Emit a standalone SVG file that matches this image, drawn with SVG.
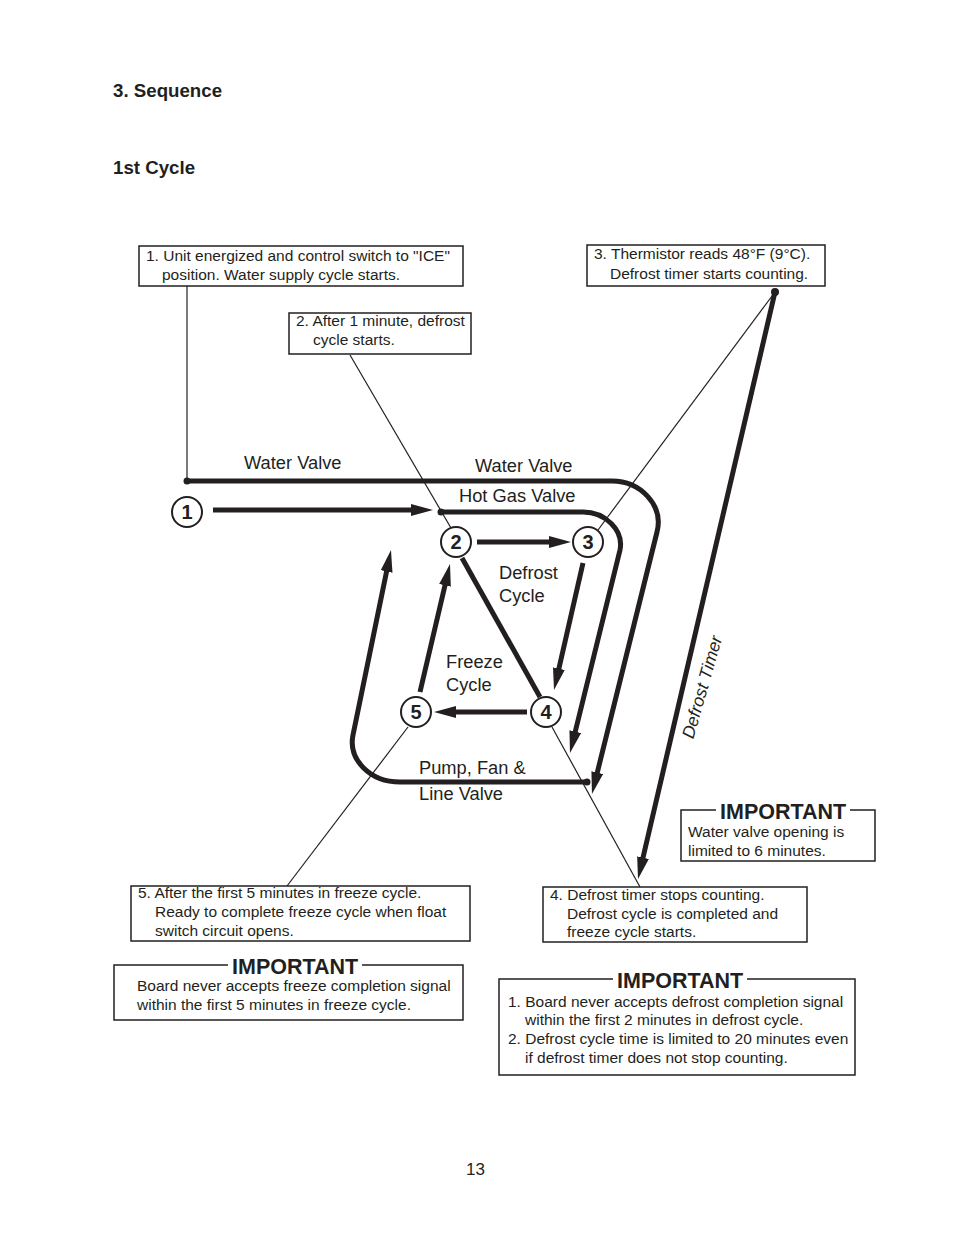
<svg xmlns="http://www.w3.org/2000/svg" width="954" height="1235" viewBox="0 0 954 1235">
<style>
text{font-family:"Liberation Sans",Arial,sans-serif;fill:#231f20}
.h{font-weight:bold;font-size:18.7px}
.bx{font-size:15.5px}
.lb{font-size:18.3px}
.imp{font-weight:bold;font-size:21.5px}
.num{font-weight:bold;font-size:20px;text-anchor:middle}
.box{fill:none;stroke:#231f20;stroke-width:1.5}
.thin{fill:none;stroke:#231f20;stroke-width:1.2}
.thick{fill:none;stroke:#231f20;stroke-width:5}
.circ{fill:#fff;stroke:#231f20;stroke-width:2}
.dot{fill:#231f20}
</style>
<defs>
<marker id="ah" viewBox="0 0 22 12" refX="4" refY="6" markerWidth="22" markerHeight="12" markerUnits="userSpaceOnUse" orient="auto">
<path d="M0,0 L22,6 L0,12 Z" fill="#231f20"/>
</marker>
</defs>
<rect width="954" height="1235" fill="#fff"/>
<text class="h" x="113" y="97">3. Sequence</text>
<text class="h" x="113" y="174">1st Cycle</text>

<g id="connectors">
<path class="thin" d="M187,286 V481"/>
<path class="thin" d="M350,355 L451,528"/>
<path class="thin" d="M775,292 L598,530"/>
<path class="thin" d="M552,727 L640,887"/>
<path class="thin" d="M408,727 L287,886"/>
<path class="thick" d="M187,481 H612 C640,481 664,505 657,532 L596.3,776.5" marker-end="url(#ah)"/>
<path class="thick" d="M441,512 H583 C605,512 624,530 620,550 L574.3,735.5" marker-end="url(#ah)"/>
<path class="thick" d="M587,782 H400 C370,782 348,759.5 353,735 L387.4,567.6" marker-end="url(#ah)"/>
<path class="thick" d="M213,510 H415" marker-end="url(#ah)"/>
<path class="thick" d="M477,542 H553" marker-end="url(#ah)"/>
<path class="thick" d="M583,563 L558,672.5" marker-end="url(#ah)"/>
<path class="thick" d="M527,712 H452" marker-end="url(#ah)"/>
<path class="thick" d="M420,692 L445.9,581.5" marker-end="url(#ah)"/>
<path class="thick" d="M462,558 L540,697"/>
<path class="thick" d="M775,292 L642.1,861.5" marker-end="url(#ah)"/>
<circle class="dot" cx="187" cy="481" r="3.5"/>
<circle class="dot" cx="441" cy="512" r="3.5"/>
<circle class="dot" cx="775" cy="292" r="4"/>
<circle class="dot" cx="587" cy="782" r="3.5"/>
</g>

<g id="labels">
<text class="lb" x="244" y="469">Water Valve</text>
<text class="lb" x="475" y="472">Water Valve</text>
<text class="lb" x="459" y="502">Hot Gas Valve</text>
<text class="lb" x="499" y="579">Defrost</text>
<text class="lb" x="499" y="602">Cycle</text>
<text class="lb" x="446" y="668">Freeze</text>
<text class="lb" x="446" y="691">Cycle</text>
<text class="lb" x="419" y="774">Pump, Fan &amp;</text>
<text class="lb" x="419" y="800">Line Valve</text>
<text x="702" y="693" font-size="17.5" font-style="italic" text-anchor="middle" transform="rotate(-74 702 687)">Defrost Timer</text>
</g>

<g id="node1"><circle class="circ" cx="187" cy="512" r="15"/><text class="num" x="187" y="519">1</text></g>
<g id="node2"><circle class="circ" cx="456" cy="542" r="15"/><text class="num" x="456" y="549">2</text></g>
<g id="node3"><circle class="circ" cx="588" cy="542" r="15"/><text class="num" x="588" y="549">3</text></g>
<g id="node4"><circle class="circ" cx="546" cy="712" r="15"/><text class="num" x="546" y="719">4</text></g>
<g id="node5"><circle class="circ" cx="416" cy="712" r="15"/><text class="num" x="416" y="719">5</text></g>

<g id="box1"><rect class="box" x="139" y="246" width="324" height="40" fill="#fff"/>
<text class="bx" x="146" y="261">1. Unit energized and control switch to "ICE"</text>
<text class="bx" x="162" y="280">position. Water supply cycle starts.</text></g>
<g id="box2"><rect class="box" x="289" y="313" width="182" height="41" fill="#fff"/>
<text class="bx" x="296" y="326">2. After 1 minute, defrost</text>
<text class="bx" x="313" y="345">cycle starts.</text></g>
<g id="box3"><rect class="box" x="587" y="245" width="238" height="41" fill="#fff"/>
<text class="bx" x="594" y="259">3. Thermistor reads 48°F (9°C).</text>
<text class="bx" x="610" y="279">Defrost timer starts counting.</text></g>
<g id="box4"><rect class="box" x="543" y="887" width="264" height="55"/>
<text class="bx" x="550" y="900">4. Defrost timer stops counting.</text>
<text class="bx" x="567" y="919">Defrost cycle is completed and</text>
<text class="bx" x="567" y="937">freeze cycle starts.</text></g>
<g id="box5"><rect class="box" x="131" y="886" width="339" height="55"/>
<text class="bx" x="138" y="898">5. After the first 5 minutes in freeze cycle.</text>
<text class="bx" x="155" y="917">Ready to complete freeze cycle when float</text>
<text class="bx" x="155" y="936">switch circuit opens.</text></g>

<g id="important1">
<path class="box" d="M716,810 H681 V861 H875 V810 H850"/>
<text class="imp" x="720" y="819">IMPORTANT</text>
<text class="bx" x="688" y="837">Water valve opening is</text>
<text class="bx" x="688" y="856">limited to 6 minutes.</text>
</g>
<g id="important2">
<path class="box" d="M228,965 H114 V1020 H463 V965 H362"/>
<text class="imp" x="232" y="974">IMPORTANT</text>
<text class="bx" x="137" y="991">Board never accepts freeze completion signal</text>
<text class="bx" x="137" y="1010">within the first 5 minutes in freeze cycle.</text>
</g>
<g id="important3">
<path class="box" d="M613,979 H499 V1075 H855 V979 H747"/>
<text class="imp" x="617" y="988">IMPORTANT</text>
<text class="bx" x="508" y="1007">1. Board never accepts defrost completion signal</text>
<text class="bx" x="525" y="1025">within the first 2 minutes in defrost cycle.</text>
<text class="bx" x="508" y="1044">2. Defrost cycle time is limited to 20 minutes even</text>
<text class="bx" x="525" y="1063">if defrost timer does not stop counting.</text>
</g>
<text x="466" y="1175" font-size="17">13</text>
</svg>
